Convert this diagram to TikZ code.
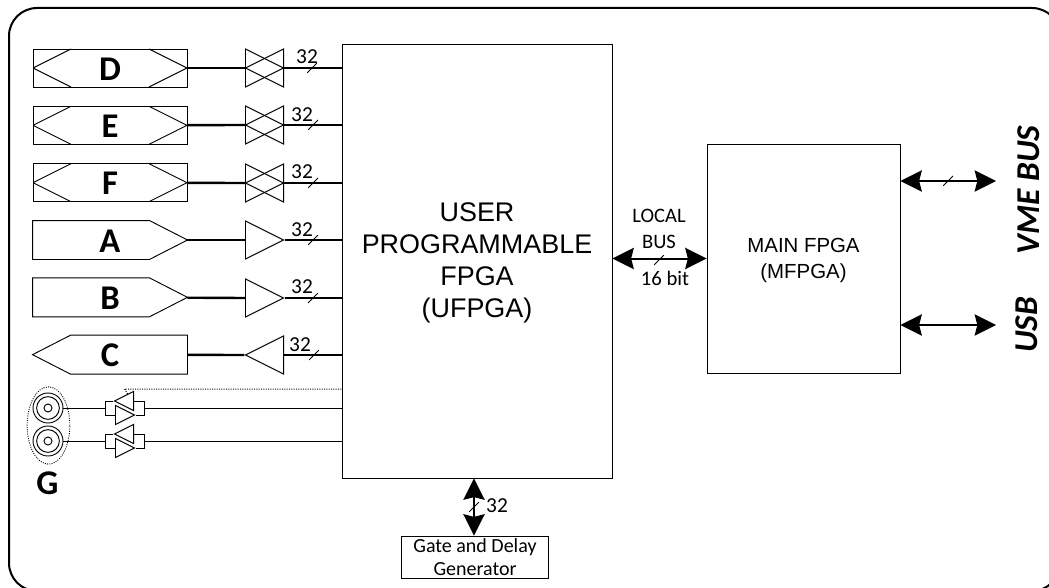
\documentclass[tikz,border=0pt]{standalone}
\usepackage{fontspec}
\usepackage{tikz}
\usetikzlibrary{arrows.meta,shapes.geometric}
\setmainfont{Carlito}
\newfontfamily\arialfont{Liberation Sans}

\tikzset{
  conn/.style={font=\fontsize{26}{26}\selectfont\bfseries,inner sep=0pt,text height=18.5pt,
    minimum width=115.5pt,minimum height=28.5pt},
  connio/.style={conn,draw,path picture={
    \draw ([xshift=28.5pt]path picture bounding box.north west)
      -- (path picture bounding box.west)
      -- ([xshift=28.5pt]path picture bounding box.south west);
    \draw ([xshift=-28.5pt]path picture bounding box.north east)
      -- (path picture bounding box.east)
      -- ([xshift=-28.5pt]path picture bounding box.south east);}},
  connout/.style={conn,append after command={\pgfextra{
    \draw (\tikzlastnode.north west) -- ([xshift=-28.5pt]\tikzlastnode.north east)
      -- (\tikzlastnode.east) -- ([xshift=-28.5pt]\tikzlastnode.south east)
      -- (\tikzlastnode.south west) -- cycle;}}},
  connin/.style={conn,append after command={\pgfextra{
    \draw (\tikzlastnode.north east) -- ([xshift=28.5pt]\tikzlastnode.north west)
      -- (\tikzlastnode.west) -- ([xshift=28.5pt]\tikzlastnode.south west)
      -- (\tikzlastnode.south east) -- cycle;}}},
  bufr/.style={draw,isosceles triangle,inner sep=0pt,isosceles triangle stretches,
    minimum width=28.5pt,minimum height=28.5pt,anchor=west},
  bufl/.style={bufr,shape border rotate=180,anchor=east},
  smallbufr/.style={bufr,minimum width=14.25pt,minimum height=14.25pt},
  smallbufl/.style={bufl,minimum width=14.25pt,minimum height=14.25pt},
  bustick/.style={inner sep=0pt,minimum size=7.5pt,path picture={
    \draw (path picture bounding box.south west) -- (path picture bounding box.north east);}},
  buswidth/.style={font=\fontsize{16}{16}\selectfont,inner sep=0pt},
  bus/.style={line width=1.8pt},
  wire/.style={line width=0.75pt},
  bibus/.style={{Stealth[length=16pt,width=16pt,inset=2pt]}-{Stealth[length=16pt,width=16pt,inset=2pt]},line width=1.5pt},
  fpga/.style={draw,font=\arialfont,inner sep=0pt,align=center},
  coax/.style={draw,circle,inner sep=0pt},
}

\begin{document}
\begin{tikzpicture}[x=0.75pt,y=-0.75pt,node distance=43pt,line width=0.7pt]
  \useasboundingbox (0,0) rectangle (1049,588);
  \draw[line width=1.5pt,rounded corners=21pt] (9,8) rectangle (1060,591);
  % main blocks
  \node[fpga,minimum width=202.5pt,minimum height=325.5pt,font=\arialfont\fontsize{20.2}{24}\selectfont] (ufpga) at (477,261) {\rule{0pt}{17.5pt}USER\\PROGRAMMABLE\\FPGA\\(UFPGA)};
  \node[fpga,minimum width=144.75pt,minimum height=171.75pt,font=\arialfont\fontsize{15.3}{19.5}\selectfont] (mfpga) at (803.5,258.5) {\rule{0pt}{14pt}MAIN FPGA\\(MFPGA)};
  \node[draw,inner sep=0pt,minimum width=110pt,minimum height=31.5pt,align=center,font=\fontsize{15}{17}\selectfont] (gdg) at (475,557) {Gate and Delay\\Generator};
  % connectors
  \node[connio] (d) at (110,68) {D};
  \node[connio] (e) [below of = d] {E};
  \node[connio] (f) [below of = e] {F};
  \node[connout] (a) [below of = f] {A};
  \node[connout] (b) [below of = a] {B};
  \node[connin] (c) [below of = b] {C};
  % buffers
  \node[bufr] (gd1) at (245,68) {};
  \node[bufl] (gd2) at (284,68) {};
  \node[bufr] (ge1) at (245,125) {};
  \node[bufl] (ge2) at (284,125) {};
  \node[bufr] (gf1) at (245,183) {};
  \node[bufl] (gf2) at (284,183) {};
  \node[bufr] (ga) at (245,240) {};
  \node[bufr] (gb) at (245,298) {};
  \node[bufl] (gc) at (284,355) {};
  % bus widths
  \node[buswidth] (wd) at (307,57) {32};
  \node[buswidth] (we) at (302,115) {32};
  \node[buswidth] (wf) at (302,172) {32};
  \node[buswidth] (wa) at (302,230) {32};
  \node[buswidth] (wb) at (302,287) {32};
  \node[buswidth] (wc) at (300,345) {32};
  \node[bustick] (td) at (312,68) {};
  \node[bustick] (te) at (313,125) {};
  \node[bustick] (tf) at (313,183) {};
  \node[bustick] (ta) at (313,240) {};
  \node[bustick] (tb) at (313,298) {};
  \node[bustick] (tc) at (314,355) {};
  \path[bus] (d) edge (gd1.west)
  (gd2.east) edge (gd2.east -| ufpga.west)
  (e) edge (ge1.west)
  (ge2.east) edge (ge2.east -| ufpga.west)
  (f) edge (gf1.west)
  (gf2.east) edge (gf2.east -| ufpga.west)
  (a) edge (ga.west)
  (ga.east) edge (ga.east -| ufpga.west)
  (b) edge (gb.west)
  (gb.east) edge (gb.east -| ufpga.west)
  (c) edge (gc.west)
  (gc.east) edge (gc.east -| ufpga.west)
  ;
  % G inputs
  \node[draw,ellipse,densely dotted,inner sep=0pt,minimum width=32pt,minimum height=58pt] (gring) at (48.5,425.5) {};
  \node[coax,minimum size=22.5pt] (g1) at (48,408) {};
  \node[coax,minimum size=17pt] at (g1) {};
  \node[coax,minimum size=6pt] at (g1) {};
  \node[coax,minimum size=22.5pt] (g2) at (48,441) {};
  \node[coax,minimum size=17pt] at (g2) {};
  \node[coax,minimum size=6pt] at (g2) {};
  \node[font=\fontsize{26}{26}\selectfont\bfseries,inner sep=0pt] (glabel) at (47.5,483) {G};
  \node[smallbufl] (s1a) at (134,401) {};
  \node[smallbufr] (s1b) at (115,415) {};
  \node[smallbufl] (s2a) at (134,434) {};
  \node[smallbufr] (s2b) at (115,448) {};
  \draw[wire] (s1a.west) -- (105,401) -- (105,415) -- (s1b.west);
  \draw[wire] (s1a.east) -- (144,401) -- (144,415) -- (s1b.east);
  \draw[wire] (s2a.west) -- (105,434) -- (105,448) -- (s2b.west);
  \draw[wire] (s2a.east) -- (144,434) -- (144,448) -- (s2b.east);
  \path[wire] (g1) edge (105,408)
  (144,408) edge (ufpga.west |- 144,408)
  (g2) edge (105,441)
  (144,441) edge (ufpga.west |- 144,441)
  ;
  \draw[wire,densely dotted] (s1a.north) -- (124.5,389) -- (ufpga.west |- 124.5,389);
  % buses
  \draw[bibus] (ufpga.east |- mfpga.west) -- (mfpga.west);
  \draw[bibus] (ufpga.south -| 474,478) -- (gdg.north -| 474,478);
  \coordinate (vme) at (996,181);
  \coordinate (usb) at (996,325);
  \draw[bibus] (mfpga.east |- vme) -- (vme);
  \draw[bibus] (mfpga.east |- usb) -- (usb);
  \node[bustick] (tl) at (659,260) {};
  \node[bustick] (tv) at (948,181) {};
  \node[bustick] (tg) at (474,507) {};
  \node[font=\fontsize{15.4}{19}\selectfont,align=center,inner sep=0pt] (local) at (659,229) {LOCAL\\BUS};
  \node[font=\fontsize{15.5}{15.5}\selectfont,inner sep=0pt] (w16) at (665,278) {16 bit};
  \node[buswidth] (wg) at (497,506) {32};
  \node[rotate=90,font=\fontsize{25}{25}\selectfont\bfseries\itshape,inner sep=0pt] (vmebus) at (1029,190) {VME BUS};
  \node[rotate=90,font=\fontsize{25}{25}\selectfont\bfseries\itshape,inner sep=0pt] (usblabel) at (1027,325) {USB};
\end{tikzpicture}
\end{document}
